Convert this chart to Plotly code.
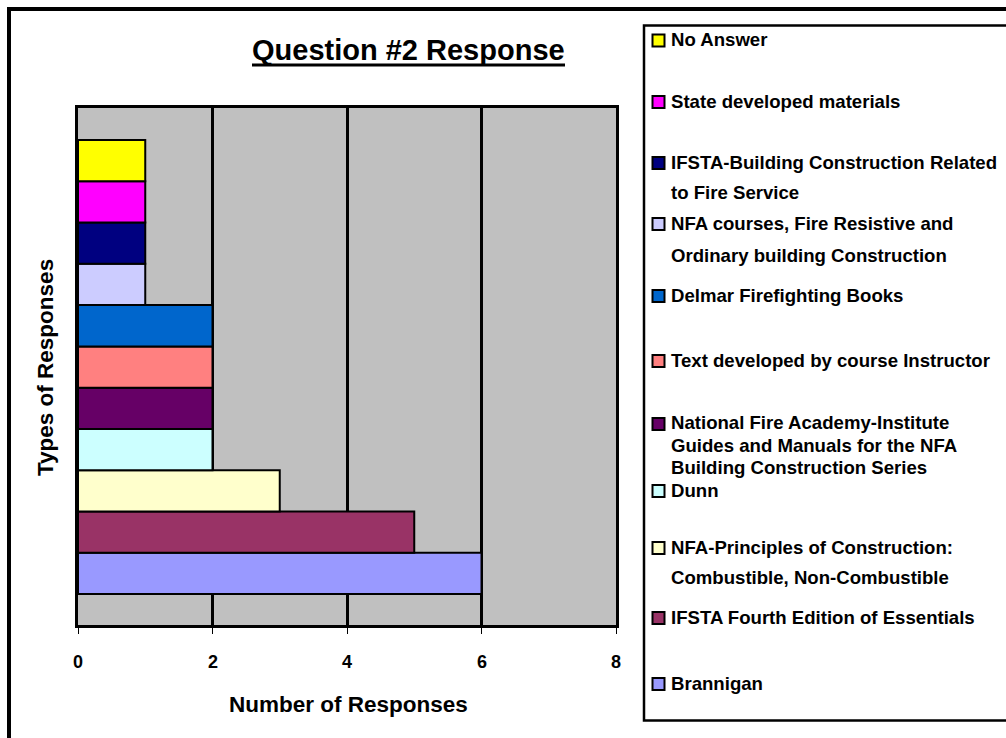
import textwrap
import plotly.graph_objects as go

# ---------------- data (series order as in the source chart, bottom bar first) ----------------
categories = [
    "Brannigan",
    "IFSTA Fourth Edition of Essentials",
    "NFA-Principles of Construction: Combustible, Non-Combustible",
    "Dunn",
    "National Fire Academy-Institute Guides and Manuals for the NFA Building Construction Series",
    "Text developed by course Instructor",
    "Delmar Firefighting Books",
    "NFA courses, Fire Resistive and Ordinary building Construction",
    "IFSTA-Building Construction Related to Fire Service",
    "State developed materials",
    "No Answer",
]
values = [6, 5, 3, 2, 2, 2, 2, 1, 1, 1, 1]
colors = ["#9999FF", "#993366", "#FFFFCC", "#CCFFFF", "#660066", "#FF8080",
          "#0066CC", "#CCCCFF", "#000080", "#FF00FF", "#FFFF00"]
x_ticks = [0, 2, 4, 6, 8]
title_text = "Question #2 Response"
x_title = "Number of Responses"
y_title = "Types of Responses"

# ---------------- layout constants (pixels) ----------------
W, H = 1006, 738
L, R, T, B = 78, 616, 108, 625
PW, PH = R - L, B - T
FONT = "Liberation Sans, Arial, Helvetica, sans-serif"


def fx(px):
    return (px - L) / PW


def fy(py):
    return (B - py) / PH


fig = go.Figure(
    go.Bar(
        x=values,
        y=categories,
        orientation="h",
        width=1,
        marker=dict(color=colors, line=dict(color="black", width=2)),
        showlegend=False,
        hovertemplate="%{y}: %{x}<extra></extra>",
    )
)

fig.update_layout(
    width=W,
    height=H,
    margin=dict(l=L, r=W - R, t=T, b=H - B, pad=0),
    paper_bgcolor="white",
    plot_bgcolor="#C0C0C0",
    font=dict(family=FONT, color="black"),
    xaxis=dict(
        range=[0, 8],
        tickvals=x_ticks,
        showticklabels=False,
        ticks="outside",
        ticklen=6,
        tickwidth=1,
        tickcolor="black",
        showgrid=True,
        gridcolor="black",
        gridwidth=2.5,
        showline=True,
        linecolor="black",
        linewidth=3,
        mirror=True,
        zeroline=False,
        fixedrange=True,
    ),
    yaxis=dict(
        type="category",
        categoryorder="array",
        categoryarray=categories,
        range=[-1.25, len(categories) - 1 + 0.5 + 0.775],
        showticklabels=False,
        ticks="",
        showgrid=False,
        showline=True,
        linecolor="black",
        linewidth=3,
        mirror=True,
        zeroline=False,
        fixedrange=True,
    ),
)

shapes = []
annotations = []

# x tick labels, placed through the x axis scale
for v in x_ticks:
    annotations.append(dict(text="<b>%d</b>" % v, xref="x", yref="paper",
                            x=v, y=fy(662), xanchor="center", yanchor="middle",
                            showarrow=False, font=dict(size=18, family=FONT, color="black")))

# outer chart border
shapes.append(dict(type="rect", xref="paper", yref="paper",
                   x0=fx(9), x1=fx(1016), y0=fy(9), y1=fy(748),
                   line=dict(color="black", width=4), fillcolor="rgba(0,0,0,0)"))

# title with underline
annotations.append(dict(text="<b>%s</b>" % title_text, xref="paper", yref="paper",
                        x=fx(408), y=fy(50), xanchor="center", yanchor="middle",
                        showarrow=False, font=dict(size=29, family=FONT, color="black")))
shapes.append(dict(type="line", xref="paper", yref="paper",
                   x0=fx(252), x1=fx(565), y0=fy(65), y1=fy(65),
                   line=dict(color="black", width=3)))

# axis titles
annotations.append(dict(text="<b>%s</b>" % x_title, xref="paper", yref="paper",
                        x=fx(348), y=fy(704), xanchor="center", yanchor="middle",
                        showarrow=False, font=dict(size=22.5, family=FONT, color="black")))
annotations.append(dict(text="<b>%s</b>" % y_title, xref="paper", yref="paper",
                        x=fx(45), y=fy(368), xanchor="center", yanchor="middle",
                        textangle=-90, showarrow=False,
                        font=dict(size=22.5, family=FONT, color="black")))

# legend box
shapes.append(dict(type="rect", xref="paper", yref="paper",
                   x0=fx(644), x1=fx(1016), y0=fy(25.5), y1=fy(720.5),
                   line=dict(color="black", width=2.5), fillcolor="white", layer="below"))

# legend entries (top to bottom = last series first)
legend_first_y = [39.5, 101, 162, 223, 295, 360, 423, 490, 547, 617, 683]
legend_line_step = [0, 0, 30, 32, 0, 0, 22, 0, 30, 0, 0]
order = list(range(len(categories)))[::-1]
for k, idx in enumerate(order):
    lines = textwrap.wrap(categories[idx], width=35, break_on_hyphens=False)
    y0 = legend_first_y[k]
    cy = y0 + 1
    shapes.append(dict(type="rect", xref="paper", yref="paper",
                       x0=fx(652.5), x1=fx(664.5), y0=fy(cy - 6), y1=fy(cy + 6),
                       line=dict(color="black", width=2), fillcolor=colors[idx]))
    for j, ln in enumerate(lines):
        annotations.append(dict(text="<b>%s</b>" % ln, xref="paper", yref="paper",
                                x=fx(669), y=fy(y0 + j * legend_line_step[k]),
                                xanchor="left", yanchor="middle", showarrow=False,
                                font=dict(size=18.6, family=FONT, color="black")))

fig.update_layout(shapes=shapes, annotations=annotations)

fig.write_html("out.html")
